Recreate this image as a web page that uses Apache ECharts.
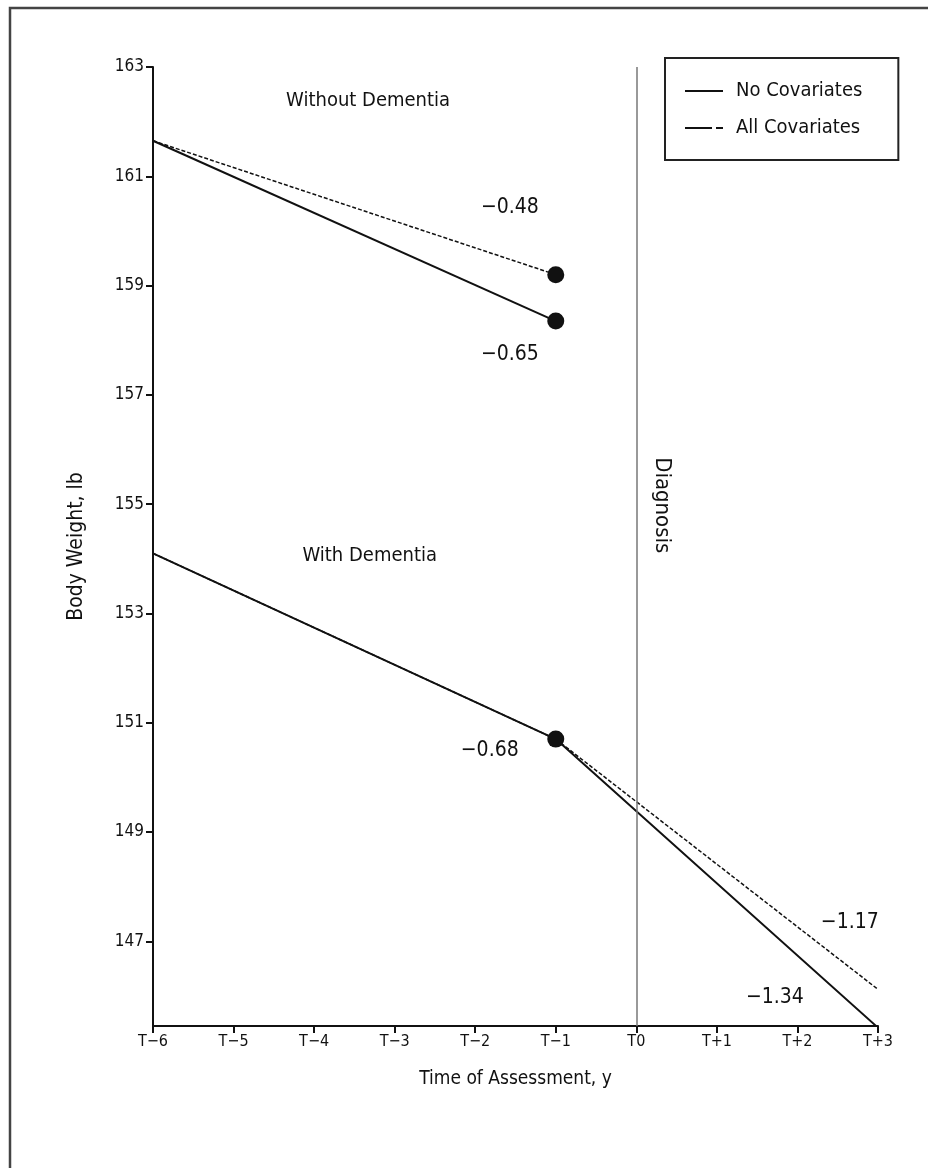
<!DOCTYPE html>
<html>
<head>
<meta charset="utf-8">
<script src="https://cdn.jsdelivr.net/npm/echarts@6/dist/echarts.min.js"></script>
<style>
html,body{margin:0;padding:0;background:#fff;}
#chart{width:928px;height:1168px;}
</style>
</head>
<body>
<div id="chart"></div>
<script>
// ---- data ----
var xTickValues = [-6, -5, -4, -3, -2, -1, 0, 1, 2, 3];
var xTickLabels = ['T\u22126', 'T\u22125', 'T\u22124', 'T\u22123', 'T\u22122', 'T\u22121', 'T0', 'T+1', 'T+2', 'T+3'];
var yTickValues = [147, 149, 151, 153, 155, 157, 159, 161, 163];

var withoutNoCov = [[-6, 161.65], [-1, 158.35]];
var withoutAllCov = [[-6, 161.65], [-1, 159.2]];
var withNoCov = [[-6, 154.1], [-1, 150.7], [3, 145.42]];
var withAllCov = [[-6, 154.1], [-1, 150.7], [3, 146.12]];
var endPoints = [[-1, 159.2], [-1, 158.35], [-1, 150.7]];

var slopeLabels = [
  { value: [-1.57, 160.42], text: '\u22120.48' },
  { value: [-1.57, 157.73], text: '\u22120.65' },
  { value: [-1.82, 150.49], text: '\u22120.68' },
  { value: [2.65, 147.34], text: '\u22121.17' },
  { value: [1.72, 145.97], text: '\u22121.34' }
];
var groupLabels = [
  { value: [-3.33, 162.38], text: 'Without Dementia' },
  { value: [-3.31, 154.06], text: 'With Dementia' }
];
var diagnosisLabel = [{ value: [0.32, 154.98], text: 'Diagnosis' }];

var FONT = '"Liberation Sans Narrow", "DejaVu Sans Condensed", "Arial Narrow", sans-serif';
var INK = '#111';

var chart = echarts.init(document.getElementById('chart'), null, { renderer: 'canvas' });

function textSeries(items, size, rotate) {
  return {
    type: 'scatter',
    symbolSize: 0,
    silent: true,
    z: 5,
    itemStyle: { opacity: 1 },
    data: items.map(function (d) { return { value: d.value, label: { formatter: d.text } }; }),
    label: {
      show: true,
      position: 'inside',
      rotate: rotate || 0,
      color: INK,
      fontFamily: FONT,
      fontSize: size
    }
  };
}

var option = {
  backgroundColor: '#fff',
  animation: false,
  graphic: [
    {
      type: 'polyline',
      shape: { points: [[10, 1180], [10, 8], [940, 8]] },
      style: { stroke: '#444', lineWidth: 2.5, fill: null },
      silent: true
    }
  ],
  legend: {
    orient: 'vertical',
    left: 665,
    top: 58,
    padding: [23, 36, 22, 20],
    borderColor: '#222',
    borderWidth: 2,
    itemWidth: 38,
    itemHeight: 2,
    itemGap: 17,
    textStyle: { fontFamily: FONT, fontSize: 20, color: INK, padding: [0, 0, 0, 8] },
    data: [
      { name: 'No Covariates', icon: 'path://M0,0H38V2H0Z' },
      { name: 'All Covariates', icon: 'path://M0,0H27V2H0Z M31,0H38V2H31Z' }
    ],
    selectedMode: false
  },
  grid: { left: 153, right: 50, top: 67, bottom: 142, containLabel: false },
  xAxis: {
    type: 'value',
    min: -6,
    max: 3,
    interval: 1,
    name: 'Time of Assessment, y',
    nameLocation: 'middle',
    nameGap: 44,
    nameTextStyle: { fontFamily: FONT, fontSize: 19, color: INK },
    axisLine: { onZero: false, lineStyle: { color: INK, width: 2 } },
    axisTick: { show: true, length: 7, lineStyle: { color: INK, width: 2 } },
    axisLabel: {
      fontFamily: FONT, fontSize: 16, color: INK, margin: 8,
      formatter: function (v) {
        var i = xTickValues.indexOf(Math.round(v));
        return i >= 0 ? xTickLabels[i] : '';
      }
    },
    splitLine: { show: false }
  },
  yAxis: {
    type: 'value',
    min: 145.45,
    max: 163,
    name: 'Body Weight, lb',
    nameLocation: 'middle',
    nameGap: 66,
    nameTextStyle: { fontFamily: FONT, fontSize: 21, color: INK },
    axisLine: { show: true, onZero: false, lineStyle: { color: INK, width: 2 } },
    axisTick: { show: true, length: 7, lineStyle: { color: INK, width: 2 }, customValues: yTickValues },
    axisLabel: {
      fontFamily: FONT, fontSize: 17, color: INK, margin: 9,
      customValues: yTickValues,
      formatter: function (v) { return String(Math.round(v)); }
    },
    splitLine: { show: false }
  },
  series: [
    {
      name: 'No Covariates', type: 'line', data: withoutNoCov, symbol: 'none',
      lineStyle: { color: INK, width: 2 }, itemStyle: { color: INK }, z: 3,
      markLine: {
        silent: true, symbol: 'none', label: { show: false },
        lineStyle: { color: '#777', width: 1.5, type: 'solid' },
        data: [{ xAxis: 0 }]
      }
    },
    {
      name: 'All Covariates', type: 'line', data: withoutAllCov, symbol: 'none',
      lineStyle: { color: INK, width: 1.5, type: [4, 2] }, itemStyle: { color: INK }, z: 3
    },
    {
      name: 'No Covariates', type: 'line', data: withNoCov, symbol: 'none',
      lineStyle: { color: INK, width: 2 }, itemStyle: { color: INK }, z: 3
    },
    {
      name: 'All Covariates', type: 'line', data: withAllCov, symbol: 'none',
      lineStyle: { color: INK, width: 1.5, type: [4, 2] }, itemStyle: { color: INK }, z: 3
    },
    {
      type: 'scatter', data: endPoints, symbol: 'circle', symbolSize: 17,
      itemStyle: { color: '#111', opacity: 1 }, z: 4, silent: true
    },
    textSeries(slopeLabels, 21),
    textSeries(groupLabels, 20),
    textSeries(diagnosisLabel, 22, -90)
  ]
};

chart.setOption(option);
</script>
</body>
</html>
